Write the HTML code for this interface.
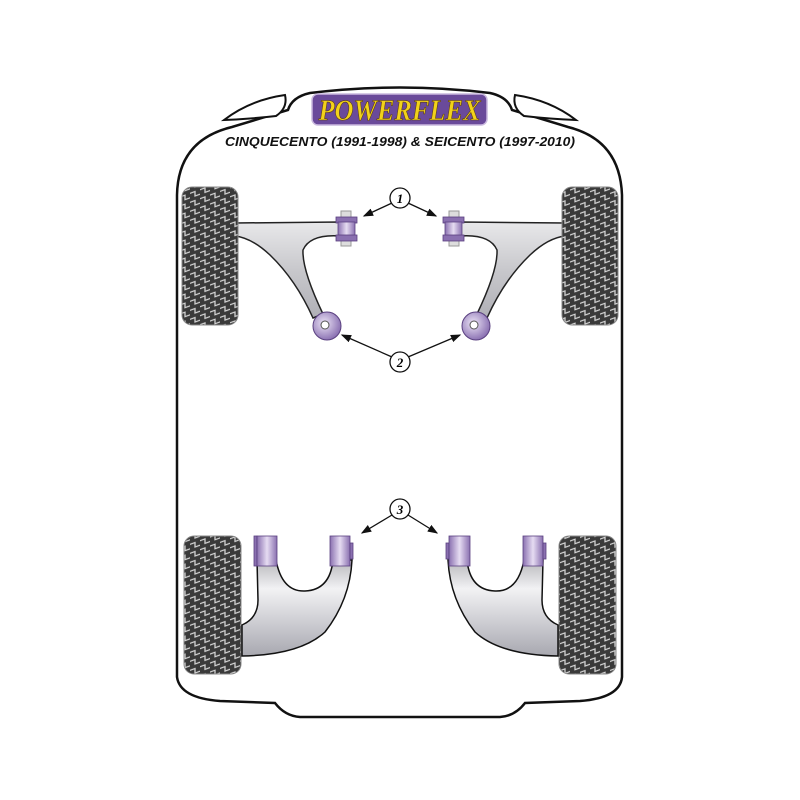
<!DOCTYPE html>
<html><head><meta charset="utf-8"><style>html,body{margin:0;padding:0;background:#fff}svg{display:block}</style></head>
<body>
<svg width="800" height="800" viewBox="0 0 800 800" xmlns="http://www.w3.org/2000/svg">
<defs>
<pattern id="tread" width="10" height="9" patternUnits="userSpaceOnUse" patternTransform="skewY(-20)">
<rect width="10" height="9" fill="#3a3a3a"/>
<path d="M0 1.5 H5 V6 H10" fill="none" stroke="#d8d8d8" stroke-width="1.2"/>
</pattern>
<linearGradient id="arm" x1="0" y1="0" x2="0" y2="1">
<stop offset="0" stop-color="#e8e8ea"/><stop offset="0.5" stop-color="#c8c8cc"/><stop offset="1" stop-color="#b0b0b6"/>
</linearGradient>
<linearGradient id="armb" x1="0" y1="0" x2="0" y2="1">
<stop offset="0" stop-color="#b8b8bc"/><stop offset="0.3" stop-color="#f2f2f4"/><stop offset="1" stop-color="#a8a8b0"/>
</linearGradient>
<linearGradient id="bush" x1="0" y1="0" x2="1" y2="0">
<stop offset="0" stop-color="#8a70b0"/><stop offset="0.5" stop-color="#e6dcf2"/><stop offset="1" stop-color="#8a70b0"/>
</linearGradient>
<radialGradient id="rb" cx="0.4" cy="0.4" r="0.6">
<stop offset="0" stop-color="#ece4f6"/><stop offset="1" stop-color="#8d74b4"/>
</radialGradient>
<marker id="ah" markerWidth="8" markerHeight="8" refX="7" refY="4" orient="auto"><path d="M0,1 L8,4 L0,7 z" fill="#111"/></marker>
</defs>

<!-- body -->
<path d="M177 677 L177 195 Q178 140 232 127 L288 110 Q292 97 310 93 Q400 82 490 93 Q508 97 512 110 L568 127 Q620 140 622 195 L622 677 Q620 698 580 701 L525 703 Q515 716 500 717 L300 717 Q285 716 275 703 L220 701 Q180 698 177 677 Z" fill="#fff" stroke="#111" stroke-width="2.5"/>
<!-- headlights -->
<path d="M224 120 Q250 100 285 95 Q288 108 276 116 Q250 119 224 120 Z" fill="#fff" stroke="#111" stroke-width="2"/>
<path d="M576 120 Q550 100 515 95 Q512 108 524 116 Q550 119 576 120 Z" fill="#fff" stroke="#111" stroke-width="2"/>

<!-- logo -->
<rect x="312" y="94" width="175" height="31" rx="6" fill="#6a4a9a" stroke="#c9b8de" stroke-width="1.5"/>
<text x="399.5" y="120" text-anchor="middle" font-family="Liberation Serif, serif" font-weight="bold" font-style="italic" font-size="30" fill="#f2d21a" stroke="#5a3c0c" stroke-width="0.6" textLength="162" lengthAdjust="spacingAndGlyphs">POWERFLEX</text>
<text x="400" y="146" text-anchor="middle" font-family="Liberation Sans, sans-serif" font-weight="bold" font-style="italic" font-size="13" fill="#111" textLength="350" lengthAdjust="spacingAndGlyphs">CINQUECENTO (1991-1998) &amp; SEICENTO (1997-2010)</text>

<!-- top arms -->
<path d="M235 223 L340 222 L340 236 Q310 234 303 250 Q302 270 323 314 L313 318 Q296 280 270 255 Q252 238 235 236 Z" fill="url(#arm)" stroke="#222" stroke-width="1.5"/>
<path d="M565 223 L460 222 L460 236 Q490 234 497 250 Q498 270 477 314 L487 318 Q504 280 530 255 Q548 238 565 236 Z" fill="url(#arm)" stroke="#222" stroke-width="1.5"/>

<!-- tires -->
<rect x="182" y="187" width="56" height="138" rx="10" fill="url(#tread)" stroke="#888" stroke-width="1"/>
<rect x="562" y="187" width="56" height="138" rx="10" fill="url(#tread)" stroke="#888" stroke-width="1"/>
<rect x="184" y="536" width="57" height="138" rx="10" fill="url(#tread)" stroke="#888" stroke-width="1"/>
<rect x="559" y="536" width="57" height="138" rx="10" fill="url(#tread)" stroke="#888" stroke-width="1"/>

<!-- top bushings -->
<g>
<rect x="341" y="211" width="10" height="35" fill="#ddd" stroke="#999"/>
<rect x="336" y="217" width="21" height="6" fill="#8a70b0" stroke="#5a4080" stroke-width="0.8"/>
<rect x="338" y="222" width="17" height="14" fill="url(#bush)" stroke="#5a4080" stroke-width="0.8"/>
<rect x="336" y="235" width="21" height="6" fill="#8a70b0" stroke="#5a4080" stroke-width="0.8"/>
</g>
<g>
<rect x="449" y="211" width="10" height="35" fill="#ddd" stroke="#999"/>
<rect x="443" y="217" width="21" height="6" fill="#8a70b0" stroke="#5a4080" stroke-width="0.8"/>
<rect x="445" y="222" width="17" height="14" fill="url(#bush)" stroke="#5a4080" stroke-width="0.8"/>
<rect x="443" y="235" width="21" height="6" fill="#8a70b0" stroke="#5a4080" stroke-width="0.8"/>
</g>
<circle cx="327" cy="326" r="14" fill="url(#rb)" stroke="#5a4080"/>
<circle cx="325" cy="325" r="4" fill="#fff" stroke="#555"/>
<circle cx="476" cy="326" r="14" fill="url(#rb)" stroke="#5a4080"/>
<circle cx="474" cy="325" r="4" fill="#fff" stroke="#555"/>

<!-- bottom arms -->
<path d="M257 560 L276 560 Q282 592 305 591 Q330 590 333 560 L352 560 Q350 600 325 632 Q300 655 242 656 L242 625 Q258 618 258 600 Z" fill="url(#armb)" stroke="#111" stroke-width="1.5"/>
<path d="M543 560 L524 560 Q518 592 495 591 Q470 590 467 560 L448 560 Q450 600 475 632 Q500 655 558 656 L558 625 Q542 618 542 600 Z" fill="url(#armb)" stroke="#111" stroke-width="1.5"/>
<g fill="url(#bush)" stroke="#5a4080" stroke-width="0.8">
<rect x="254" y="536" width="3" height="30" fill="#8a70b0"/>
<rect x="257" y="536" width="20" height="30"/>
<rect x="330" y="536" width="20" height="30"/>
<rect x="350" y="543" width="3" height="16" fill="#8a70b0"/>
<rect x="446" y="543" width="3" height="16" fill="#8a70b0"/>
<rect x="449" y="536" width="21" height="30"/>
<rect x="523" y="536" width="20" height="30"/>
<rect x="543" y="543" width="3" height="16" fill="#8a70b0"/>
</g>

<!-- labels -->
<g stroke="#111" stroke-width="1.3" fill="none">
<line x1="392" y1="203" x2="364" y2="216" marker-end="url(#ah)"/>
<line x1="408" y1="203" x2="436" y2="216" marker-end="url(#ah)"/>
<line x1="392" y1="357" x2="342" y2="335" marker-end="url(#ah)"/>
<line x1="408" y1="357" x2="460" y2="335" marker-end="url(#ah)"/>
<line x1="392" y1="515" x2="362" y2="533" marker-end="url(#ah)"/>
<line x1="408" y1="515" x2="437" y2="533" marker-end="url(#ah)"/>
</g>
<g font-family="Liberation Serif, serif" font-weight="bold" font-style="italic" font-size="13" text-anchor="middle">
<circle cx="400" cy="198" r="10" fill="#fff" stroke="#111" stroke-width="1.3"/><text x="400" y="203">1</text>
<circle cx="400" cy="362" r="10" fill="#fff" stroke="#111" stroke-width="1.3"/><text x="400" y="367">2</text>
<circle cx="400" cy="509" r="10" fill="#fff" stroke="#111" stroke-width="1.3"/><text x="400" y="514">3</text>
</g>
</svg>
</body></html>
